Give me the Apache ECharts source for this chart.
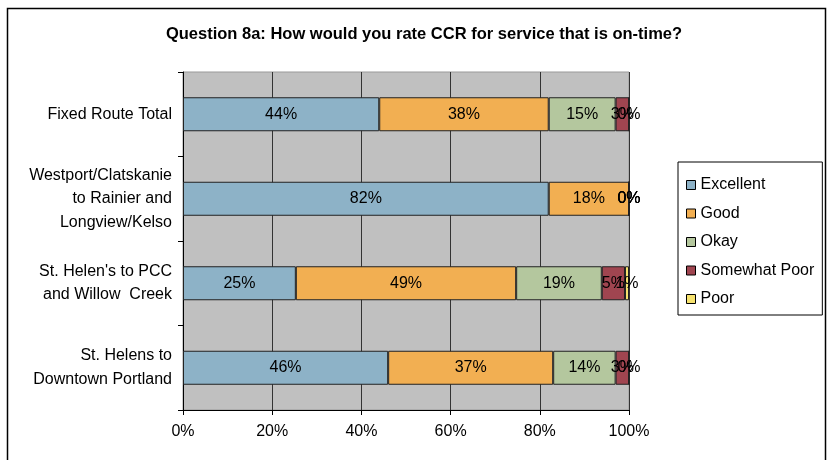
<!DOCTYPE html>
<html><head><meta charset="utf-8">
<script src="https://cdn.jsdelivr.net/npm/echarts@6/dist/echarts.min.js"></script>
<style>html,body{margin:0;padding:0;background:#fff}#c{width:829px;height:460px}</style>
</head><body><div id="c"></div>
<script>
var categories = ["Fixed Route Total", "Westport/Clatskanie\nto Rainier and\nLongview/Kelso", "St. Helen's to PCC\nand Willow  Creek", "St. Helens to\nDowntown Portland"];
var seriesNames = ["Excellent", "Good", "Okay", "Somewhat Poor", "Poor"];
var excellent = [44, 82, 25.3, 46];
var good = [38, 18, 49.4, 37];
var okay = [15, 0, 19.2, 14];
var somewhatPoor = [3, 0, 5.2, 3];
var poor = [0, 0, 0.9, 0];
var xTicks = ["0%", "20%", "40%", "60%", "80%", "100%"];
var colors = ["#8DB2C7", "#F2AF52", "#B4C79E", "#A04550", "#F6E26E"];
var values = [excellent, good, okay, somewhatPoor, poor];

var chart = echarts.init(document.getElementById('c'), null, {renderer: 'canvas'});
var font = "'Liberation Sans', Arial, sans-serif";
var series = seriesNames.map(function (n, i) {
  return {
    name: n, type: 'bar', stack: 'total', barWidth: 34,
    data: values[i],
    itemStyle: {color: colors[i], borderColor: '#222', borderWidth: 1},
    label: {show: true, position: 'inside', color: '#000', fontFamily: font, fontSize: 16,
      formatter: function (p) { return Math.round(p.value) + '%'; }},
    emphasis: {disabled: true}
  };
});
chart.setOption({
  animation: false,
  title: {text: 'Question 8a: How would you rate CCR for service that is on-time?', left: 419, top: 21, textAlign: 'center',
    textStyle: {fontFamily: font, fontSize: 16.5, fontWeight: 'bold', color: '#000'}},
  graphic: [{type: 'rect', shape: {x: 7.5, y: 8.5, width: 818, height: 460}, style: {fill: 'none', stroke: '#000', lineWidth: 1.5}}],
  legend: {
    orient: 'vertical', left: 678, top: 162, width: 144, height: 151,
    padding: [14, 8, 7, 8], itemGap: 10.5, itemWidth: 9, itemHeight: 9,
    borderColor: '#000', borderWidth: 1, icon: 'rect',
    itemStyle: {borderColor: '#000', borderWidth: 1},
    textStyle: {fontFamily: font, fontSize: 16, lineHeight: 18, color: '#000', padding: [0, 0, 0, 0]},
    data: seriesNames
  },
  grid: {left: 183, top: 72, width: 446, height: 338, show: true, backgroundColor: '#C0C0C0', borderColor: '#999', borderWidth: 1},
  xAxis: {
    type: 'value', min: 0, max: 100, interval: 20,
    axisLine: {show: true, lineStyle: {color: '#000'}},
    axisTick: {show: true, length: 5, lineStyle: {color: '#000'}},
    splitLine: {show: true, lineStyle: {color: '#333', width: 1}},
    axisLabel: {fontFamily: font, fontSize: 16, color: '#000', margin: 14,
      formatter: function (v) { return xTicks[Math.round(v / 20)]; }}
  },
  yAxis: {
    type: 'category', inverse: true, data: categories,
    axisLine: {show: true, lineStyle: {color: '#000'}},
    axisTick: {show: true, length: 5, lineStyle: {color: '#000'}},
    splitLine: {show: false},
    axisLabel: {fontFamily: font, fontSize: 16, color: '#000', margin: 11, lineHeight: 23.5, align: 'right'}
  },
  series: series
});
</script></body></html>
